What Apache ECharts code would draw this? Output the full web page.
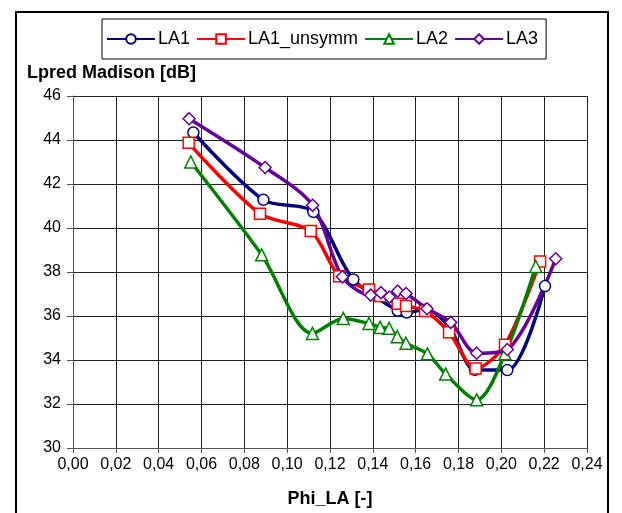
<!DOCTYPE html>
<html>
<head>
<meta charset="utf-8">
<script src="https://cdn.jsdelivr.net/npm/echarts@6/dist/echarts.min.js"></script>
<style>
  html, body { margin: 0; padding: 0; background: #fff; }
  #chart { width: 622px; height: 513px; }
</style>
</head>
<body>
<div id="chart"></div>
<script>
// values
var la1X = [0.0562, 0.0889, 0.1122, 0.1309, 0.1516, 0.1558, 0.1648, 0.1760, 0.1877, 0.2028, 0.2204];
var la1Y = [44.34, 41.28, 40.73, 37.66, 36.24, 36.16, 36.30, 35.45, 33.55, 33.54, 37.36];

var la1uX = [0.0540, 0.0873, 0.1110, 0.1243, 0.1382, 0.1434, 0.1516, 0.1555, 0.1644, 0.1756, 0.1880, 0.2017, 0.2181];
var la1uY = [43.87, 40.65, 39.86, 37.81, 37.20, 36.91, 36.56, 36.46, 36.23, 35.26, 33.61, 34.69, 38.48];

var la2X = [0.0550, 0.0881, 0.1118, 0.1262, 0.1382, 0.1434, 0.1476, 0.1514, 0.1555, 0.1655, 0.1740, 0.1885, 0.2017, 0.2161];
var la2Y = [43.00, 38.78, 35.21, 35.89, 35.66, 35.48, 35.44, 35.06, 34.76, 34.28, 33.36, 32.19, 34.28, 38.25];

var la3X = [0.0542, 0.0897, 0.1119, 0.1258, 0.1390, 0.1438, 0.1477, 0.1516, 0.1555, 0.1653, 0.1764, 0.1885, 0.2028, 0.2254];
var la3Y = [44.97, 42.75, 41.03, 37.78, 36.95, 37.06, 36.86, 37.13, 37.02, 36.33, 35.71, 34.31, 34.48, 38.60];

var seriesNames = ["LA1", "LA1_unsymm", "LA2", "LA3"];

function pairs(xs, ys) {
  return xs.map(function (x, i) { return [x, ys[i]]; });
}

var font = "Liberation Sans";
var chart = echarts.init(document.getElementById("chart"));

function lineSeries(name, data, color, symbol, size) {
  return {
    name: name,
    type: "line",
    data: data,
    smooth: 0.3,
    symbol: symbol,
    symbolSize: size,
    showAllSymbol: true,
    lineStyle: { color: color, width: 3.5 },
    itemStyle: { color: "#fff", borderColor: color, borderWidth: 1.5 },
    emphasis: { disabled: true },
  };
}

chart.setOption({
  backgroundColor: "#fff",
  animation: false,
  title: {
    text: "Lpred Madison [dB]",
    left: 27,
    top: 64,
    padding: 0,
    textStyle: { fontFamily: font, fontSize: 18, fontWeight: "bold", color: "#000" },
  },
  legend: {
    data: seriesNames,
    left: 102,
    top: 19,
    padding: [11, 8, 11, 4],
    borderColor: "#000",
    borderWidth: 1,
    itemWidth: 48,
    itemHeight: 12,
    itemGap: 6,
    textStyle: { fontFamily: font, fontSize: 18, color: "#000", padding: [0, 0, 0, -2] },
  },
  graphic: [
    {
      type: "rect",
      shape: { x: 16, y: 12, width: 592, height: 520 },
      style: { fill: "none", stroke: "#000", lineWidth: 2 },
      silent: true,
    },
  ],
  grid: { left: 73, right: 35, top: 96, bottom: 61 },
  xAxis: {
    type: "value",
    min: 0,
    max: 0.24,
    interval: 0.02,
    name: "Phi_LA [-]",
    nameLocation: "middle",
    nameGap: 42,
    nameTextStyle: { fontFamily: font, fontSize: 18, fontWeight: "bold", color: "#000" },
    axisLine: { lineStyle: { color: "#555", width: 1 } },
    axisTick: { show: true, length: 5, inside: false, lineStyle: { color: "#555" } },
    axisLabel: {
      fontFamily: font,
      fontSize: 16,
      color: "#000",
      margin: 9,
      formatter: function (v) { return v.toFixed(2).replace(".", ","); },
    },
    splitLine: { show: true, lineStyle: { color: "#222", width: 1 } },
  },
  yAxis: {
    type: "value",
    min: 30,
    max: 46,
    interval: 2,
    axisLine: { show: true, lineStyle: { color: "#555", width: 1 } },
    axisTick: { show: true, length: 6, lineStyle: { color: "#555" } },
    axisLabel: { fontFamily: font, fontSize: 16, color: "#000", margin: 12 },
    splitLine: { show: true, lineStyle: { color: "#222", width: 1 } },
  },
  series: [
    lineSeries("LA1", pairs(la1X, la1Y), "#000080", "circle", 11),
    lineSeries("LA1_unsymm", pairs(la1uX, la1uY), "#ff0000", "rect", 11),
    lineSeries("LA2", pairs(la2X, la2Y), "#008000", "triangle", 12),
    lineSeries("LA3", pairs(la3X, la3Y), "#660099", "diamond", 12),
  ],
});
</script>
</body>
</html>
